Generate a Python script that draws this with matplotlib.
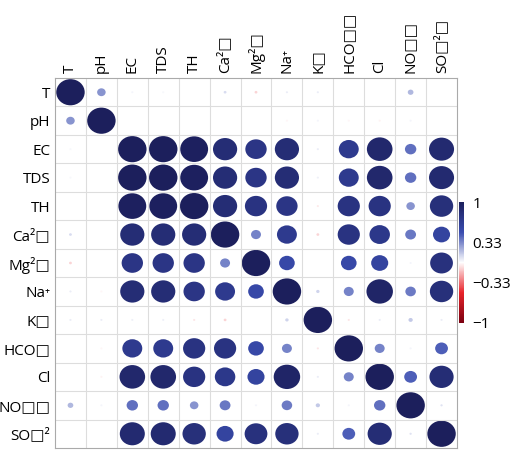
import numpy as np
import matplotlib
matplotlib.use('Agg')
import matplotlib.pyplot as plt
from matplotlib.patches import Ellipse
from matplotlib.colors import LinearSegmentedColormap, Normalize
from matplotlib.colorbar import ColorbarBase

plt.rcParams['font.family'] = ['Open Sans', 'DejaVu Sans']

# etiquetas (tal como aparecen, con glifos faltantes)
labels = ['T', 'pH', 'EC', 'TDS', 'TH', 'Ca²□', 'Mg²□', 'Na⁺', 'K□', 'HCO□□', 'Cl', 'NO□□', 'SO□²□']
row_labels = ['T', 'pH', 'EC', 'TDS', 'TH', 'Ca²□', 'Mg²□', 'Na⁺', 'K□', 'HCO□', 'Cl', 'NO□□', 'SO□²']

# matriz de correlacion
r_T   = [1, .30, .03, .02, 0, .10, -.10, .05, .05, 0, 0, .20, 0]
r_pH  = [.30, 1, 0, 0, 0, 0, 0, -.02, .03, -.02, -.03, .03, 0]
r_EC  = [.02, 0, 1, 1, .98, .85, .75, .85, .05, .70, .90, .40, .88]
r_TDS = [.02, 0, 1, 1, .98, .85, .75, .85, .04, .70, .90, .40, .88]
r_TH  = [0, 0, .98, .98, 1, .85, .78, .75, -.05, .78, .78, .30, .82]
r_Ca  = [.10, 0, .85, .85, .85, 1, .35, .70, -.10, .78, .72, .38, .60]
r_Mg  = [-.10, 0, .75, .75, .75, .35, 1, .55, 0, .55, .60, .03, .80]
r_Na  = [.05, -.02, .85, .85, .75, .70, .55, 1, .12, .35, .93, .37, .82]
r_K   = [.05, .05, .04, .04, -.06, -.10, 0, .12, 1, -.06, .05, .15, .05]
r_HCO = [0, -.02, .70, .70, .78, .78, .55, .35, -.06, 1, .35, .03, .45]
r_Cl  = [0, -.03, .90, .90, .78, .72, .60, .93, .05, .35, 1, .45, .85]
r_NO  = [.20, .03, .40, .40, .30, .38, .03, .37, .15, .03, .40, 1, .08]
r_SO  = [0, 0, .88, .88, .82, .60, .80, .82, .05, .45, .85, .08, 1]
corr = np.array([r_T, r_pH, r_EC, r_TDS, r_TH, r_Ca, r_Mg, r_Na, r_K, r_HCO, r_Cl, r_NO, r_SO])

cmap = LinearSegmentedColormap.from_list('corr', [
    (0.0, '#7a0010'), (0.25, '#e8232a'), (0.5, '#ffffff'),
    (0.75, '#3a4db0'), (1.0, '#1c1f5c')])
norm = Normalize(-1, 1)

fig = plt.figure(figsize=(5.2, 4.51), dpi=100)
ax = fig.add_axes([55/520, 3/451, 402/520, 370/451])
n = len(labels)

# circulos
for i in range(n):
    for j in range(n):
        v = corr[i, j]
        d = abs(v) * 0.92
        if d < 0.07:
            d = 0.07 if v != 0 else 0
        if d > 0:
            ax.add_patch(Ellipse((j, i), d, d, color=cmap(norm(v)), lw=0))

ax.set_xlim(-0.5, n - 0.5)
ax.set_ylim(n - 0.5, -0.5)
ax.set_xticks(np.arange(n - 1) + 0.5, minor=True)
ax.set_yticks(np.arange(n - 1) + 0.5, minor=True)
ax.grid(which='minor', color='#dddddd', lw=0.8)
ax.tick_params(which='both', length=0)
ax.set_xticks(range(n))
ax.set_yticks(range(n))
ax.xaxis.tick_top()
ax.set_xticklabels(labels, rotation=90, fontsize=11)
ax.set_yticklabels(row_labels, fontsize=11)
for s in ax.spines.values():
    s.set_color('#aaaaaa')

# barra de color
cax = fig.add_axes([459/520, (451-323)/451, 5/520, 121/451])
cb = ColorbarBase(cax, cmap=cmap, norm=norm)
cb.set_ticks([1, 0.33, -0.33, -1])
cb.set_ticklabels(['1', '0.33', '\u22120.33', '\u22121'])
cb.outline.set_visible(False)
cax.tick_params(length=0, labelsize=11, pad=6)

plt.savefig('out.png', dpi=100)
